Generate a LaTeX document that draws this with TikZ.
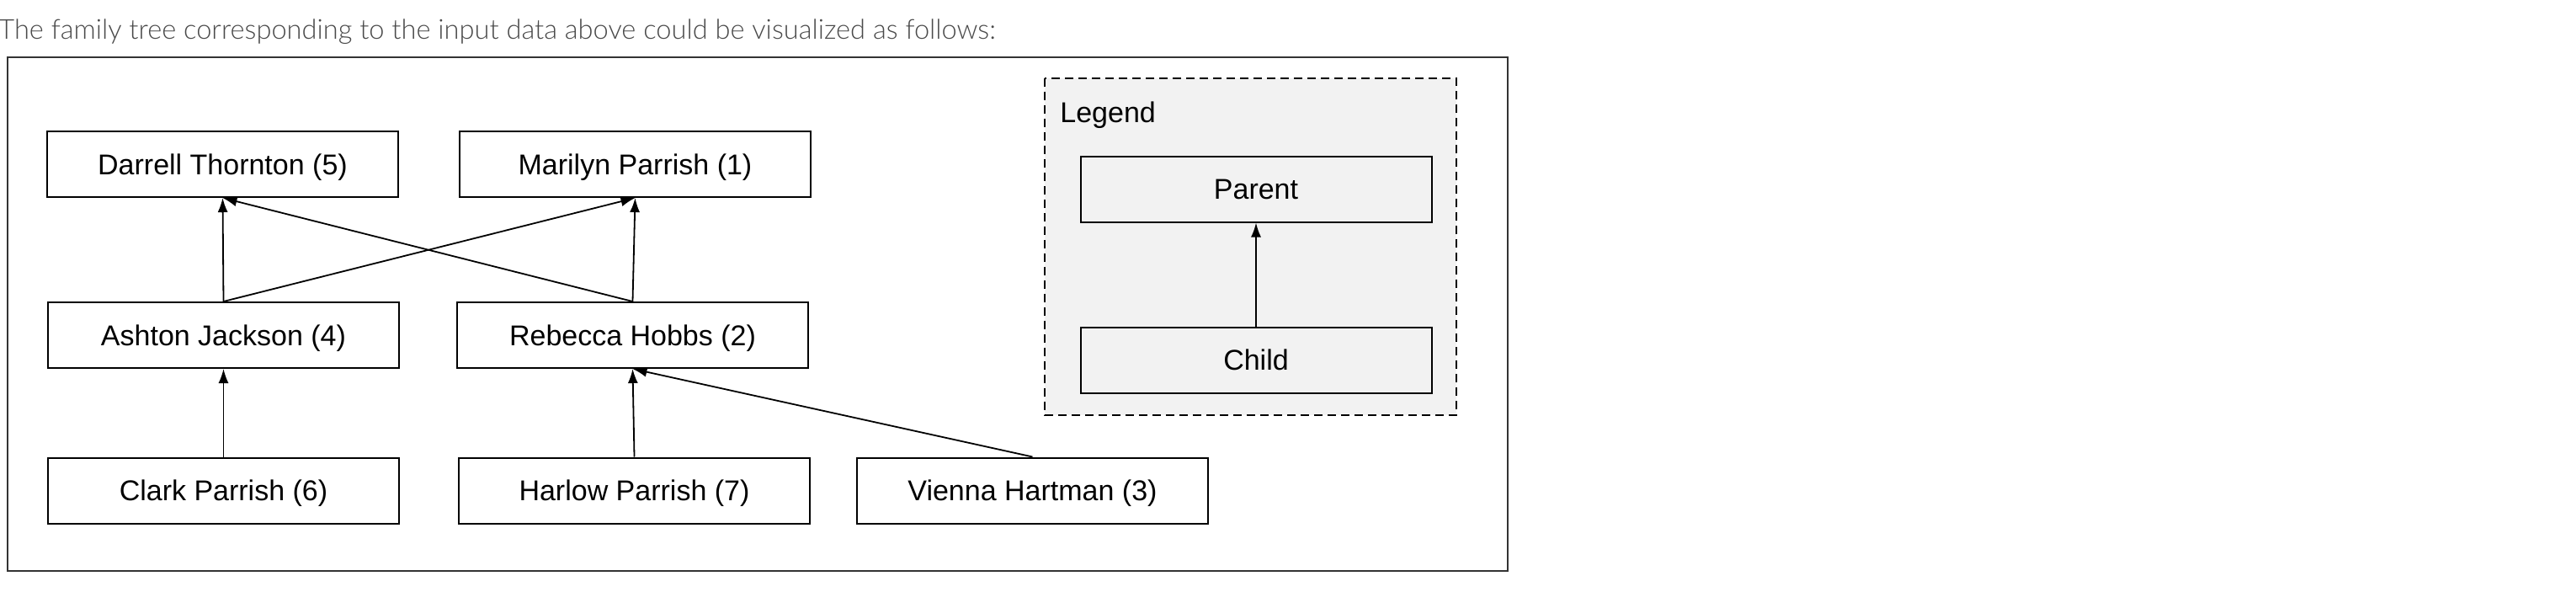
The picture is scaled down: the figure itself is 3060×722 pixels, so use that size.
\documentclass[tikz,border=0pt]{standalone}
\usepackage{fontspec}
\setmainfont{Liberation Sans}
\IfFontExistsTF{Lato Light}{\newfontfamily\titlefont{Lato Light}}{\newfontfamily\titlefont{Lato}}
\usetikzlibrary{arrows.meta}
\definecolor{legfill}{HTML}{F2F2F2}
\definecolor{framec}{HTML}{333333}
\definecolor{titlec}{HTML}{4A4A4A}
\tikzset{
  pbox/.style={draw=black, line width=1pt, fill=white, minimum width=208.5pt, minimum height=39pt, inner sep=0pt, text height=12.2pt, text depth=0pt, font=\fontsize{17}{20}\selectfont},
  lbox/.style={pbox, fill=legfill},
  rel/.style={-{Latex[length=8.5pt,width=6pt]}, line width=0.9pt, black},
}
\begin{document}
\begin{tikzpicture}[x=0.5pt,y=-0.5pt]
\useasboundingbox (0,0) rectangle (3060,722);
\node[anchor=base west, inner sep=0pt, text=titlec, font=\titlefont\fontsize{16.3}{18}\selectfont] (title) at (-2,47) {The family tree corresponding to the input data above could be visualized as follows:};
\draw[framec, line width=1pt] (9,68) rectangle (1791,678);
% legend
\draw[dashed, dash pattern=on 5pt off 3pt, line width=0.9pt, fill=legfill] (1241,93) rectangle (1730,493);
\node[anchor=base west, inner sep=0pt, font=\fontsize{17}{20}\selectfont] (legtitle) at (1259,145) {Legend};
\node[lbox] (parent) at (1492,224.5) {Parent};
\node[lbox] (child) at (1492,427.5) {Child};
\draw[rel] (child.north) -- (parent.south);
% tree
\node[pbox] (darrell) at (264.5,195) {Darrell Thornton (5)};
\node[pbox] (marilyn) at (754.5,195) {Marilyn Parrish (1)};
\node[pbox] (ashton) at (265.5,398) {Ashton Jackson (4)};
\node[pbox] (rebecca) at (751.5,398) {Rebecca Hobbs (2)};
\node[pbox] (clark) at (265.5,582.5) {Clark Parrish (6)};
\node[pbox] (harlow) at (753.5,582.5) {Harlow Parrish (7)};
\node[pbox] (vienna) at (1226.5,582.5) {Vienna Hartman (3)};
\draw[rel] (ashton.north) -- (darrell.south);
\draw[rel] (ashton.north) -- (marilyn.south);
\draw[rel] (rebecca.north) -- (darrell.south);
\draw[rel] (rebecca.north) -- (marilyn.south);
\draw[rel] (clark.north) -- (ashton.south);
\draw[rel] (harlow.north) -- (rebecca.south);
\draw[rel] (vienna.north) -- (rebecca.south);
\end{tikzpicture}
\end{document}
